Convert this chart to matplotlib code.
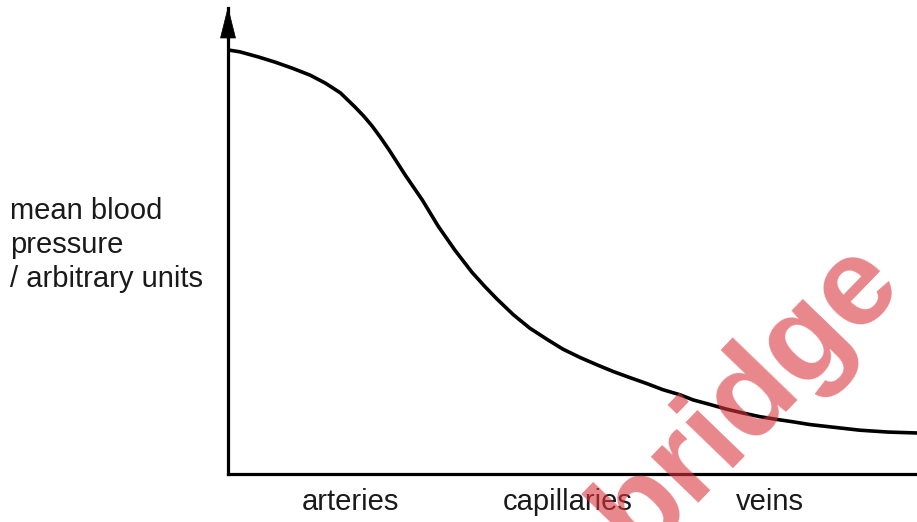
import matplotlib
matplotlib.use("Agg")
import matplotlib.pyplot as plt
from matplotlib.patches import Polygon

# Data (arbitrary units)
distance = [0.0, 1.7, 4.4, 6.8, 9.3, 11.9, 14.1, 16.3, 18.4, 19.7, 20.9, 22.1, 23.4,
            25.7, 28.2, 30.5, 32.9, 35.4, 37.3, 39.0, 41.4, 43.8, 46.3, 48.6, 51.1,
            53.6, 55.9, 58.3, 60.8, 63.1, 65.6, 67.5, 70.0, 72.4, 74.7, 77.2, 79.7,
            82.0, 84.5, 86.9, 89.3, 91.7, 95.8, 100.0]
pressure = [91.0, 90.6, 89.5, 88.4, 87.1, 85.6, 83.9, 81.8, 78.8, 76.8, 74.7, 72.3, 69.5,
            64.2, 58.8, 53.2, 48.1, 43.3, 40.2, 37.6, 34.2, 31.3, 28.9, 26.8, 25.0,
            23.4, 22.0, 20.7, 19.4, 18.1, 17.0, 15.9, 14.9, 13.9, 13.1, 12.3, 11.7,
            11.2, 10.6, 10.2, 9.8, 9.4, 9.0, 8.8]
vessel_labels = ["arteries", "capillaries", "veins"]
vessel_positions = [17.7, 49.3, 78.7]
ylabel_text = "mean blood\npressure\n/ arbitrary units"
watermark = "bridge"

plt.rcParams['font.family'] = ['Liberation Sans', 'DejaVu Sans']

W, H = 917, 522
fig = plt.figure(figsize=(W / 100, H / 100), dpi=100)
left = 228 / W
bottom = (H - 474) / H
ax = fig.add_axes([left, bottom, 1 - left, (474 - 8) / H])

ax.plot(distance, pressure, color='black', lw=2.6, solid_capstyle='round',
        solid_joinstyle='round')
ax.set_xlim(0, 100)
ax.set_ylim(0, 100)

for s in ['top', 'right']:
    ax.spines[s].set_visible(False)
for s in ['left', 'bottom']:
    ax.spines[s].set_linewidth(2.3)
    ax.spines[s].set_color('black')

ax.set_yticks([])
ax.set_xticks(vessel_positions)
ax.set_xticklabels(vessel_labels, fontsize=21, color='#1a1a1a')
ax.tick_params(axis='x', length=0, pad=10)

# arrow head on y axis
ax_w = W * (1 - left)
ax_h = 474 - 8
arrow = Polygon([(0, 1), (-7.5 / ax_w, 1 - 30 / ax_h), (7.5 / ax_w, 1 - 30 / ax_h)],
                closed=True, transform=ax.transAxes, clip_on=False,
                facecolor='black', edgecolor='black', lw=0.5)
ax.add_patch(arrow)

fig.text(10 / W, 1 - 245 / H, ylabel_text, ha='left', va='center',
         fontsize=21, color='#1a1a1a', linespacing=1.27)

fig.text(748 / W, 1 - 397 / H, watermark, ha='center', va='center',
         rotation=46, rotation_mode='anchor', fontsize=90, fontweight='bold',
         color='#d9363e', alpha=0.6, zorder=10)

fig.savefig("out.png", dpi=100)
